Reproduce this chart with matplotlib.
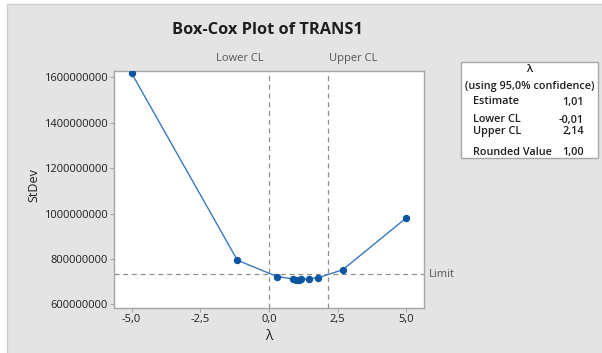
import matplotlib
matplotlib.use("Agg")
import matplotlib.pyplot as plt
from matplotlib.patches import Rectangle
from matplotlib.ticker import FixedLocator, FuncFormatter

plt.rcParams['font.family'] = ['Open Sans', 'DejaVu Sans']

# Box-Cox profile: lambda vs. standard deviation
lam = [-5.0, -1.15, 0.30, 0.88, 0.98, 1.08, 1.18, 1.45, 1.78, 2.68, 5.0]
stdev = [1618e6, 794e6, 722e6, 712e6, 709e6, 709e6, 710e6, 713e6, 717e6, 752e6, 981e6]

lower_cl = -0.01
upper_cl = 2.14
limit = 732e6

x_ticks = [-5.0, -2.5, 0.0, 2.5, 5.0]
y_ticks = [600e6, 800e6, 1000e6, 1200e6, 1400e6, 1600e6]

table_rows = [("Estimate", "1,01"), ("Lower CL", "-0,01"),
              ("Upper CL", "2,14"), ("Rounded Value", "1,00")]

W, H = 602, 353
fig = plt.figure(figsize=(W / 100, H / 100), dpi=100)
fig.patch.set_facecolor('white')

# gray panel behind everything
fig.patches.append(Rectangle((7 / W, -0.01), 1.0, 1 - 4 / H + 0.01,
                             transform=fig.transFigure, facecolor='#e4e4e4',
                             edgecolor='#cfcfcf', lw=1.0, zorder=0))

left, right, top, bottom = 114, 424, 71, 308
ax = fig.add_axes([left / W, 1 - bottom / H, (right - left) / W, (bottom - top) / H])
ax.set_facecolor('white')
ax.set_zorder(2)

ax.plot(lam, stdev, color='#3a78c2', lw=1.0, zorder=3)
ax.plot(lam, stdev, 'o', color='#0b55a3', ms=4.3, zorder=4)

dash = (0, (4, 3))
ax.axvline(lower_cl, color='#8f8f8f', lw=0.9, ls=dash, zorder=2)
ax.axvline(upper_cl, color='#8f8f8f', lw=0.9, ls=dash, zorder=2)
ax.axhline(limit, color='#8f8f8f', lw=0.9, ls=dash, zorder=2)

ax.set_xlim(-5.64, 5.64)
ax.set_ylim(583.7e6, 1627.8e6)

ax.xaxis.set_major_locator(FixedLocator(x_ticks))
ax.xaxis.set_major_formatter(FuncFormatter(lambda v, p: f"{v:.1f}".replace('.', ',')))
ax.yaxis.set_major_locator(FixedLocator(y_ticks))
ax.yaxis.set_major_formatter(FuncFormatter(lambda v, p: f"{v:.0f}"))

for s in ax.spines.values():
    s.set_color('#a6a6a6')
    s.set_linewidth(1.0)
ax.tick_params(axis='both', colors='#a6a6a6', length=3, width=0.8,
               labelcolor='#1e1e1e', labelsize=8, pad=1.5)

ax.text(lower_cl - 0.2, 1.03, "Lower CL", transform=ax.get_xaxis_transform(),
        ha='right', va='bottom', fontsize=8, color='#555555')
ax.text(upper_cl + 0.03, 1.03, "Upper CL", transform=ax.get_xaxis_transform(),
        ha='left', va='bottom', fontsize=8, color='#555555')
ax.text(1.015, limit, "Limit", transform=ax.get_yaxis_transform(),
        ha='left', va='center', fontsize=8, color='#555555', clip_on=False)

fig.text(267 / W, 1 - 30 / H, "Box-Cox Plot of TRANS1", ha='center', va='center',
         fontsize=11.8, fontweight='bold', color='#1e1e1e')
fig.text(34 / W, 1 - 185 / H, "StDev", rotation=90, ha='center', va='center',
         fontsize=9, color='#1e1e1e')
fig.text(269 / W, 1 - 337 / H, "λ", ha='center', va='center',
         fontsize=10, color='#1e1e1e')

# summary table
bx0, bx1, by0, by1 = 461, 598, 62, 158
fig.patches.append(Rectangle((bx0 / W, 1 - by1 / H), (bx1 - bx0) / W, (by1 - by0) / H,
                             transform=fig.transFigure, facecolor='white',
                             edgecolor='#a6a6a6', lw=1.0, zorder=1))
cx = (bx0 + bx1) / 2
tfs = 7.8
fig.text(cx / W, 1 - 70 / H, "λ", ha='center', va='center', fontsize=tfs,
         fontweight='semibold', color='#1e1e1e')
fig.text(cx / W, 1 - 87 / H, "(using 95,0% confidence)", ha='center', va='center',
         fontsize=tfs, fontweight='semibold', color='#1e1e1e')
row_y = [102, 120, 132, 152]
for (name, val), yy in zip(table_rows, row_y):
    fig.text(473 / W, 1 - yy / H, name, ha='left', va='center', fontsize=tfs,
             fontweight='semibold', color='#1e1e1e')
    fig.text(584 / W, 1 - yy / H, val, ha='right', va='center', fontsize=tfs,
             fontweight='semibold', color='#1e1e1e')

fig.savefig("out.png", dpi=100)
